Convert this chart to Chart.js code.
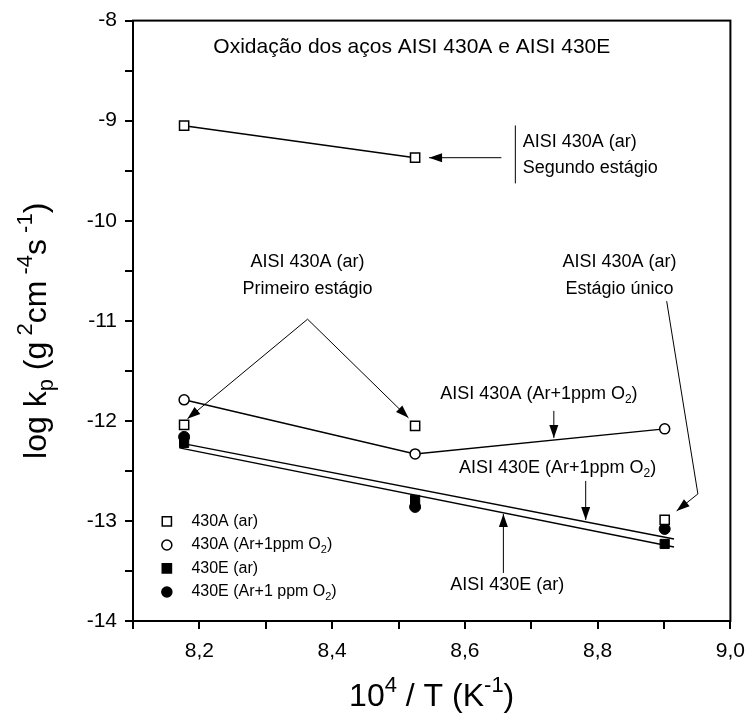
<!DOCTYPE html>
<html>
<head>
<meta charset="utf-8">
<script src="https://cdn.jsdelivr.net/npm/chart.js@4.4.0/dist/chart.umd.min.js"></script>
<style>
html, body { margin: 0; padding: 0; background: #fff; }
canvas { display: block; }
</style>
</head>
<body>
<canvas id="kp" width="755" height="723"></canvas>
<script>
// 10^4 / T for 950, 900 and 850 °C
var invT = [8.177, 8.525, 8.901];

// log kp values
var a430ArSecond = [-9.05, -9.37];   // 430A (ar), segundo estágio, first two temps
var a430ArFirst = [-12.04, -12.05];  // 430A (ar), primeiro estágio
var a430ArSingle = [-12.99];         // 430A (ar), estágio único, last temp
var a430AO2 = [-11.79, -12.33, -12.08];
var e430Ar = [-12.22, -12.79, -13.23];
var e430O2 = [-12.16, -12.86, -13.08];

// straight lines through the 430E points (ends)
var fitX = [8.17, 8.915];
var fitE430Ar = [-12.27, -13.26];
var fitE430O2 = [-12.22, -13.18];

var xTicks = [8.2, 8.4, 8.6, 8.8, 9.0];
var yTicks = [-14, -13, -12, -11, -10, -9, -8];

var FONT = '"Liberation Sans", Arial, Helvetica, sans-serif';

function pts(xs, ys) {
    return ys.map(function (y, i) { return { x: xs[i], y: y }; });
}

// draws text pieces; piece[1]: 1 = superscript, -1 = subscript
function richText(ctx, parts, x, y, size, align) {
    var small = Math.round(size * 0.68);
    var w = 0, widths = [];
    parts.forEach(function (p) {
        ctx.font = (p[1] ? small : size) + 'px ' + FONT;
        var pw = ctx.measureText(p[0]).width;
        widths.push(pw);
        w += pw;
    });
    var cx = align === 'center' ? x - w / 2 : (align === 'right' ? x - w : x);
    ctx.textAlign = 'left';
    ctx.textBaseline = 'middle';
    parts.forEach(function (p, i) {
        ctx.font = (p[1] ? small : size) + 'px ' + FONT;
        var dy = p[1] === 1 ? -size * 0.36 : (p[1] === -1 ? size * 0.3 : 0);
        ctx.fillText(p[0], cx, y + dy);
        cx += widths[i];
    });
}

function arrow(ctx, p) {
    ctx.beginPath();
    ctx.moveTo(p[0].x, p[0].y);
    for (var i = 1; i < p.length; i++) ctx.lineTo(p[i].x, p[i].y);
    ctx.stroke();
    var a = p[p.length - 1], b = p[p.length - 2];
    var ang = Math.atan2(a.y - b.y, a.x - b.x);
    ctx.beginPath();
    ctx.moveTo(a.x, a.y);
    ctx.lineTo(a.x - 13 * Math.cos(ang) + 4.5 * Math.sin(ang), a.y - 13 * Math.sin(ang) - 4.5 * Math.cos(ang));
    ctx.lineTo(a.x - 13 * Math.cos(ang) - 4.5 * Math.sin(ang), a.y - 13 * Math.sin(ang) + 4.5 * Math.cos(ang));
    ctx.closePath();
    ctx.fill();
}

var extras = {
    id: 'extras',
    afterDraw: function (chart) {
        var ctx = chart.ctx, xs = chart.scales.x, ys = chart.scales.y, ca = chart.chartArea;
        function P(x, y) { return { x: xs.getPixelForValue(x), y: ys.getPixelForValue(y) }; }
        ctx.save();
        ctx.strokeStyle = '#000';
        ctx.fillStyle = '#000';
        ctx.lineWidth = 2;
        ctx.strokeRect(ca.left, ca.top, ca.right - ca.left, ca.bottom - ca.top);

        // title inside the frame
        var t = P(8.52, -8.27);
        richText(ctx, [['Oxidação dos aços AISI 430A e AISI 430E']], t.x, t.y, 21, 'center');

        // annotations
        ctx.lineWidth = 1;
        var q = P(8.687, -9.218);
        richText(ctx, [['AISI 430A (ar)']], q.x, q.y, 18, 'left');
        q = P(8.687, -9.477);
        richText(ctx, [['Segundo estágio']], q.x, q.y, 18, 'left');
        var b1 = P(8.676, -9.048), b2 = P(8.676, -9.627);
        ctx.beginPath(); ctx.moveTo(b1.x, b1.y); ctx.lineTo(b2.x, b2.y); ctx.stroke();
        arrow(ctx, [P(8.655, -9.37), P(8.546, -9.37)]);

        q = P(8.363, -10.415);
        richText(ctx, [['AISI 430A (ar)']], q.x, q.y, 18, 'center');
        q = P(8.363, -10.685);
        richText(ctx, [['Primeiro estágio']], q.x, q.y, 18, 'center');
        arrow(ctx, [P(8.363, -10.984), P(8.182, -11.98)]);
        arrow(ctx, [P(8.363, -10.984), P(8.515, -11.97)]);

        q = P(8.833, -10.415);
        richText(ctx, [['AISI 430A (ar)']], q.x, q.y, 18, 'center');
        q = P(8.833, -10.685);
        richText(ctx, [['Estágio único']], q.x, q.y, 18, 'center');
        arrow(ctx, [P(8.904, -10.804), P(8.951, -12.73), P(8.919, -12.9)]);

        q = P(8.563, -11.733);
        richText(ctx, [['AISI 430A (Ar+1ppm O'], ['2', -1], [')']], q.x, q.y, 18, 'left');
        arrow(ctx, [P(8.734, -11.90), P(8.734, -12.17)]);

        q = P(8.591, -12.471);
        richText(ctx, [['AISI 430E (Ar+1ppm O'], ['2', -1], [')']], q.x, q.y, 18, 'left');
        arrow(ctx, [P(8.782, -12.60), P(8.782, -12.99)]);

        q = P(8.578, -13.64);
        richText(ctx, [['AISI 430E (ar)']], q.x, q.y, 18, 'left');
        arrow(ctx, [P(8.658, -13.52), P(8.658, -12.93)]);

        // legend
        var leg = [
            ['rect', '#fff', [['430A (ar)']]],
            ['circle', '#fff', [['430A (Ar+1ppm O'], ['2', -1], [')']]],
            ['rect', '#000', [['430E (ar)']]],
            ['circle', '#000', [['430E (Ar+1 ppm O'], ['2', -1], [')']]]
        ];
        var legY = [-13.005, -13.24, -13.475, -13.71];
        leg.forEach(function (l, i) {
            var m = P(8.151, legY[i]);
            ctx.fillStyle = l[1];
            ctx.lineWidth = 1.5;
            Chart.helpers.drawPoint(ctx, { pointStyle: l[0], radius: l[0] === 'rect' ? 6.5 : 5, borderWidth: 1.5 }, m.x, m.y);
            ctx.fillStyle = '#000';
            var lt = P(8.188, legY[i]);
            richText(ctx, l[2], lt.x, lt.y, 16, 'left');
        });

        // axis titles
        ctx.save();
        ctx.translate(37, (ca.top + ca.bottom) / 2 + 10);
        ctx.rotate(-Math.PI / 2);
        richText(ctx, [['log k'], ['p', -1], [' (g'], [' 2', 1], ['cm'], [' -4', 1], ['s'], [' -1', 1], [')']], 0, 0, 32, 'center');
        ctx.restore();
        richText(ctx, [['10'], ['4', 1], [' / T (K'], ['-1', 1], [')']], (ca.left + ca.right) / 2, 697, 32, 'center');
        ctx.restore();
    }
};

var openSq = { pointStyle: 'rect', pointRadius: 6.5, pointBackgroundColor: '#fff', pointBorderColor: '#000', pointBorderWidth: 1.5 };
var openCi = { pointStyle: 'circle', pointRadius: 5, pointBackgroundColor: '#fff', pointBorderColor: '#000', pointBorderWidth: 1.5 };
var fillSq = { pointStyle: 'rect', pointRadius: 6.5, pointBackgroundColor: '#000', pointBorderColor: '#000', pointBorderWidth: 1 };
var fillCi = { pointStyle: 'circle', pointRadius: 5.5, pointBackgroundColor: '#000', pointBorderColor: '#000', pointBorderWidth: 1 };

function ds(label, data, style, line) {
    return Object.assign({
        label: label,
        data: data,
        showLine: !!line,
        borderColor: '#000',
        borderWidth: 1.5,
        pointHoverRadius: 0
    }, style);
}

new Chart(document.getElementById('kp').getContext('2d'), {
    type: 'scatter',
    data: {
        datasets: [
            ds('fit 430E (Ar+1ppm O2)', pts(fitX, fitE430O2), { pointRadius: 0 }, true),
            ds('fit 430E (ar)', pts(fitX, fitE430Ar), { pointRadius: 0 }, true),
            ds('430A (ar) segundo estágio', pts(invT, a430ArSecond), openSq, true),
            ds('430A (ar) primeiro estágio', pts(invT, a430ArFirst), openSq, false),
            ds('430A (ar) estágio único', pts(invT.slice(2), a430ArSingle), openSq, false),
            ds('430A (Ar+1ppm O2)', pts(invT, a430AO2), openCi, true),
            ds('430E (ar)', pts(invT, e430Ar), fillSq, false),
            ds('430E (Ar+1 ppm O2)', pts(invT, e430O2), fillCi, false)
        ]
    },
    options: {
        responsive: false,
        animation: false,
        devicePixelRatio: 1,
        layout: { padding: { top: 19, right: 19, left: 0, bottom: 0 } },
        plugins: { legend: { display: false }, tooltip: { enabled: false } },
        scales: {
            x: {
                type: 'linear',
                min: 8.1,
                max: 9.0,
                afterFit: function (s) { s.height = 102; },
                border: { color: '#000', width: 2 },
                grid: { drawOnChartArea: false, drawTicks: true, tickLength: 8, color: '#000', lineWidth: 2 },
                ticks: {
                    stepSize: 0.1,
                    autoSkip: false,
                    maxRotation: 0,
                    padding: 10,
                    color: '#000',
                    font: { family: FONT, size: 21 },
                    callback: function (v) {
                        var r = Math.round(v * 10) / 10;
                        return xTicks.indexOf(r) >= 0 ? r.toFixed(1).replace('.', ',') : '';
                    }
                }
            },
            y: {
                type: 'linear',
                min: -14,
                max: -8,
                afterFit: function (s) { s.width = 133; },
                border: { color: '#000', width: 2 },
                grid: { drawOnChartArea: false, drawTicks: true, tickLength: 8, color: '#000', lineWidth: 2 },
                ticks: {
                    stepSize: 0.5,
                    autoSkip: false,
                    padding: 8,
                    color: '#000',
                    font: { family: FONT, size: 21 },
                    callback: function (v) { return yTicks.indexOf(v) >= 0 ? String(v) : ''; }
                }
            }
        }
    },
    plugins: [extras]
});
</script>
</body>
</html>
